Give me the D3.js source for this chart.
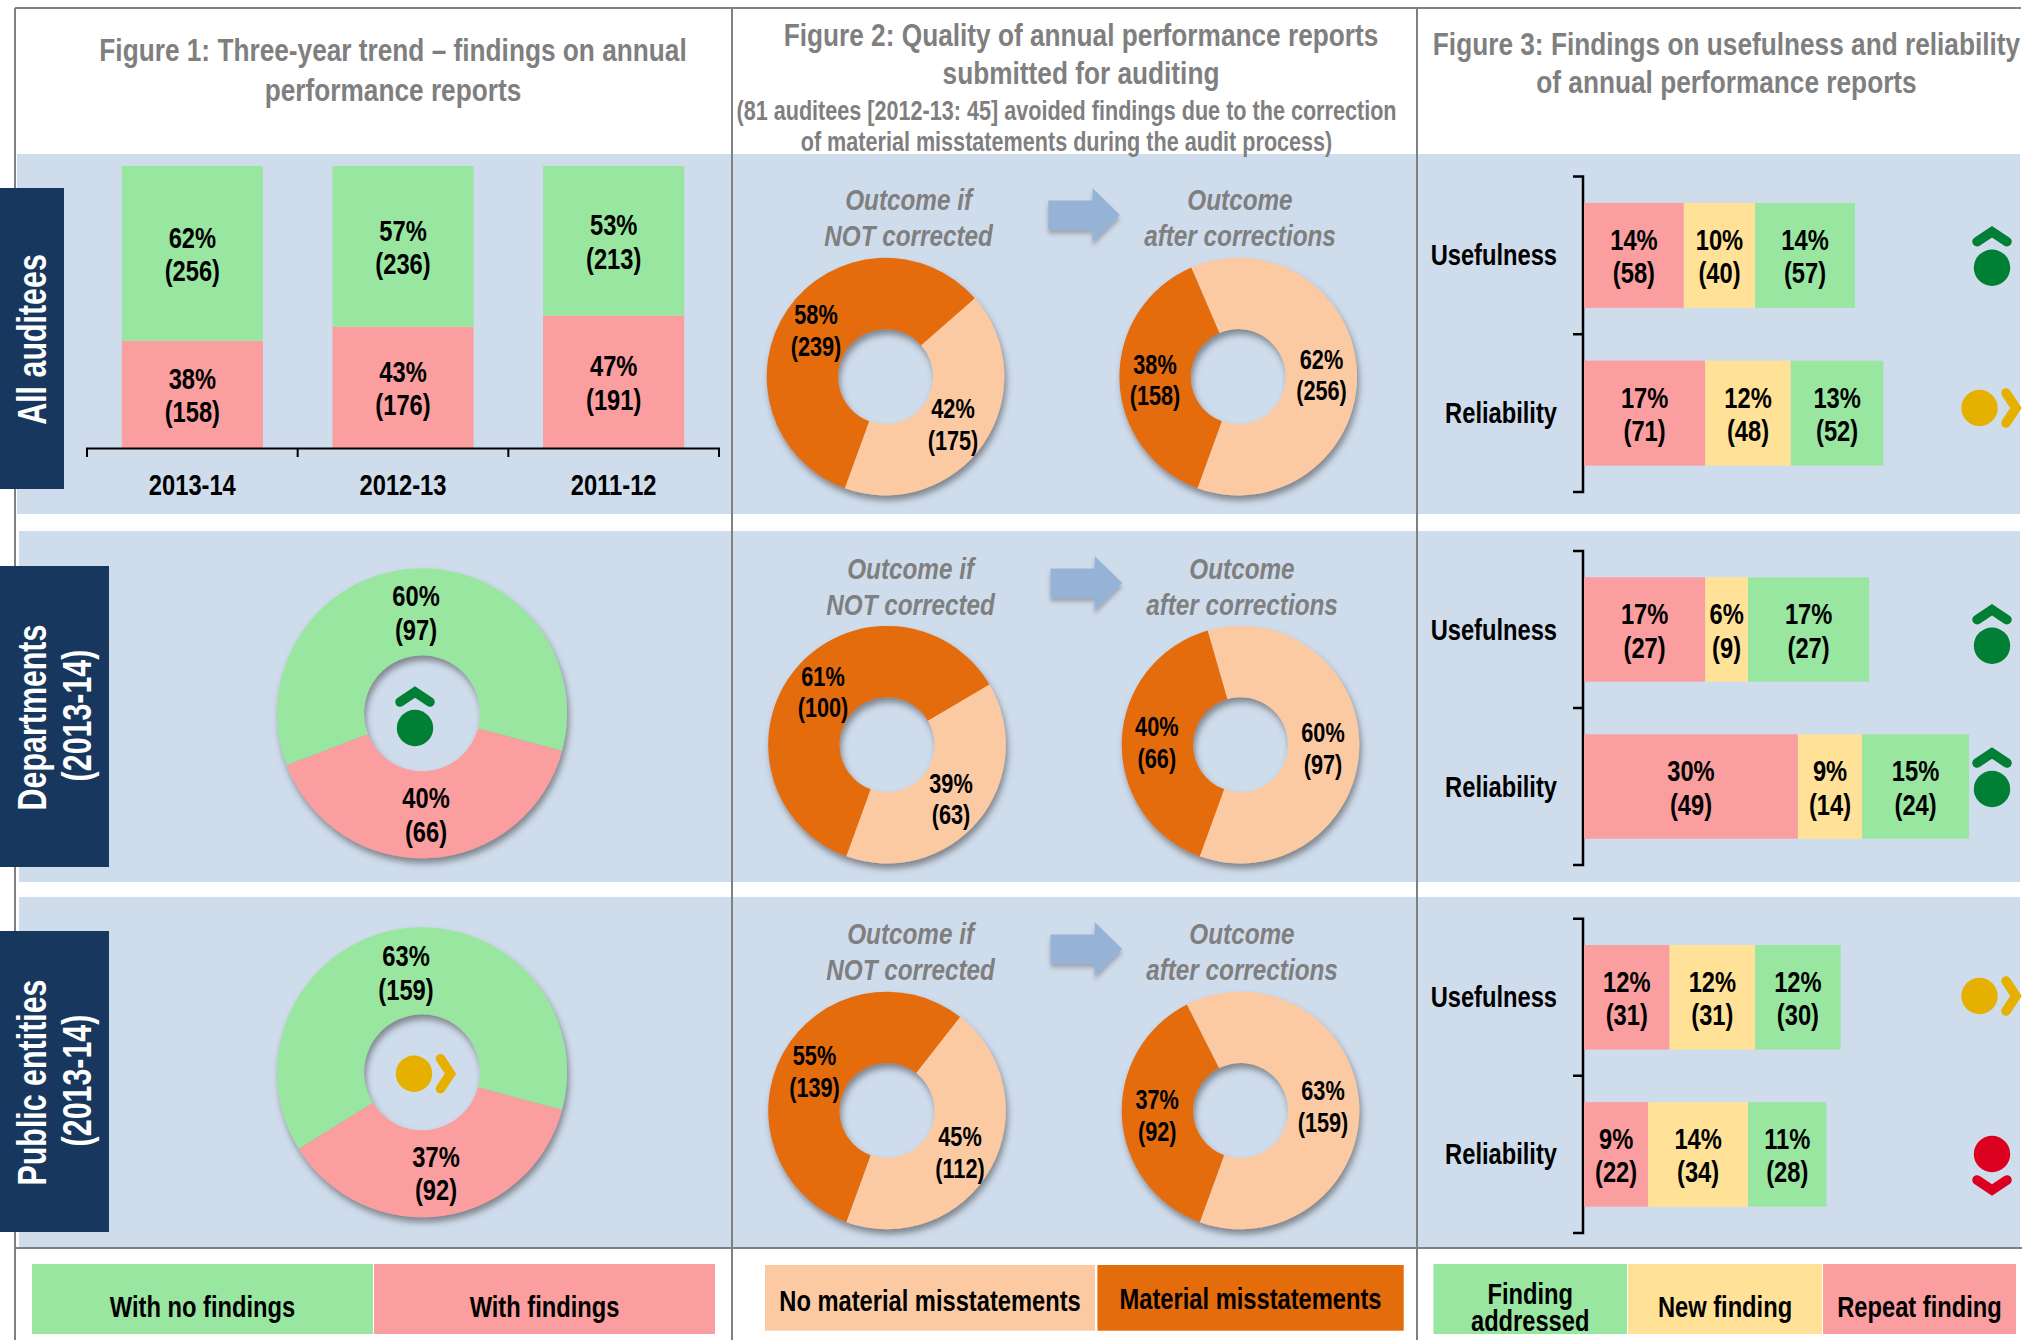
<!DOCTYPE html>
<html>
<head>
<meta charset="utf-8">
<title>Annual performance reports</title>
<script src="https://cdn.jsdelivr.net/npm/d3@7"></script>
<style>
  html, body { margin: 0; padding: 0; background: #fff; }
  svg { display: block; }
  text { font-family: "Liberation Sans", Arial, sans-serif; font-weight: 700; fill: #000; }
</style>
</head>
<body>
<div id="chart"></div>
<script>
// Figure 1 - three-year trend
const years = ['2013-14', '2012-13', '2011-12'];
const noFindingsPct = [62, 57, 53];
const noFindingsCount = [256, 236, 213];
const findingsPct = [38, 43, 47];
const findingsCount = [158, 176, 191];

// Figure 1 - donuts, [with findings, with no findings]
const departmentsPct = [40, 60];
const departmentsCount = [66, 97];
const publicEntitiesPct = [37, 63];
const publicEntitiesCount = [92, 159];

// Figure 2 - donuts, [material misstatements, no material misstatements]
const notCorrectedPct = [[58, 42], [61, 39], [55, 45]];
const notCorrectedCount = [[239, 175], [100, 63], [139, 112]];
const afterCorrectionPct = [[38, 62], [40, 60], [37, 63]];
const afterCorrectionCount = [[158, 256], [66, 97], [92, 159]];

// Figure 3 - [repeat, new, addressed] for each section
const findingRows = ['Usefulness', 'Reliability'];
const usefulnessPct = [[14, 10, 14], [17, 6, 17], [12, 12, 12]];
const usefulnessCount = [[58, 40, 57], [27, 9, 27], [31, 31, 30]];
const reliabilityPct = [[17, 12, 13], [30, 9, 15], [9, 14, 11]];
const reliabilityCount = [[71, 48, 52], [49, 14, 24], [22, 34, 28]];
const usefulnessTrend = ['up', 'up', 'side'];
const reliabilityTrend = ['side', 'up', 'down'];

const C = {
  green: '#99E6A0', red: '#FA9E9F', yellow: '#FFE297',
  dark: '#E46C0A', light: '#FBCAA2',
  panel: '#CFDCEC', navy: '#17375E', grey: '#7F7F7F', rule: '#808080', arrow: '#95B3D7',
  iconGreen: '#007F35', iconAmber: '#E6B000', iconRed: '#DC0020'
};

// The original text is Arial Narrow; no narrow face is installed, so squeeze Liberation Sans
const NARROW = 0.79;
const LABEL_SIZE = 30;

const svg = d3.select('#chart').append('svg')
  .attr('width', 2022).attr('height', 1340)
  .style('background', '#fff');

const defs = svg.append('defs');
defs.append('filter').attr('id', 'pieShadow')
  .attr('x', '-10%').attr('y', '-10%').attr('width', '120%').attr('height', '120%')
  .append('feDropShadow')
  .attr('dx', 2).attr('dy', 5).attr('stdDeviation', 3)
  .attr('flood-color', '#3c3c3c').attr('flood-opacity', 0.55);
defs.append('filter').attr('id', 'arrowShadow')
  .attr('x', '-10%').attr('y', '-10%').attr('width', '120%').attr('height', '130%')
  .append('feDropShadow')
  .attr('dx', 0).attr('dy', 4).attr('stdDeviation', 2)
  .attr('flood-color', '#3c3c3c').attr('flood-opacity', 0.35);

const sections = [
  { top: 154, bottom: 514, left: 17 },
  { top: 531, bottom: 882, left: 19 },
  { top: 897, bottom: 1247, left: 19 }
];

// Panels
svg.append('g').selectAll('rect').data(sections).enter().append('rect')
  .attr('x', d => d.left).attr('y', d => d.top)
  .attr('width', d => 2020 - d.left).attr('height', d => d.bottom - d.top)
  .attr('fill', C.panel);

// Frame lines
const frame = svg.append('g').attr('stroke', C.rule).attr('stroke-width', 2);
frame.append('line').attr('x1', 15).attr('x2', 2021).attr('y1', 8).attr('y2', 8);
frame.append('line').attr('x1', 15).attr('x2', 2022).attr('y1', 1248).attr('y2', 1248);
[15, 732, 1417].forEach(x => {
  frame.append('line').attr('x1', x).attr('x2', x).attr('y1', 8).attr('y2', 1340);
});

function centered(g, x, y, str, size, opts = {}) {
  return g.append('text')
    .attr('transform', `translate(${x},${y}) scale(${opts.squeeze || NARROW},1)`)
    .attr('text-anchor', opts.anchor || 'middle')
    .style('font-size', size + 'px')
    .style('font-style', opts.italic ? 'italic' : null)
    .style('fill', opts.fill || '#000')
    .text(str);
}

function twoLine(g, x, y, pct, count, size = LABEL_SIZE, gap = 33.5) {
  centered(g, x, y, pct + '%', size);
  centered(g, x, y + gap, '(' + count + ')', size);
}

// Titles
const titles = svg.append('g');
const titleStyle = { fill: C.grey, squeeze: 0.82 };
const subStyle = { fill: C.grey, squeeze: 0.78 };
centered(titles, 393, 61, 'Figure 1: Three-year trend \u2013 findings on annual', 32, titleStyle);
centered(titles, 393, 100.5, 'performance reports', 32, titleStyle);
centered(titles, 1081, 46, 'Figure 2: Quality of annual performance reports', 32, titleStyle);
centered(titles, 1081, 84, 'submitted for auditing', 32, titleStyle);
centered(titles, 1066.5, 119.5, '(81 auditees [2012-13: 45] avoided findings due to the correction', 27.7, subStyle);
centered(titles, 1066.5, 150.5, 'of material misstatements during the audit process)', 27.7, subStyle);
centered(titles, 1726.5, 55, 'Figure 3: Findings on usefulness and reliability', 32, titleStyle);
centered(titles, 1726.5, 93, 'of annual performance reports', 32, titleStyle);

// Section tabs down the left edge
const tabs = [
  { y0: 188, y1: 489, w: 64, lines: [['All auditees', 46, 1]] },
  { y0: 566, y1: 867, w: 109, lines: [['Departments', 46, 1], ['(2013-14)', 91, -1]] },
  { y0: 931, y1: 1232, w: 109, lines: [['Public entities', 46, 1], ['(2013-14)', 91, -1]] }
];
const tabG = svg.append('g');
tabs.forEach(t => {
  tabG.append('rect').attr('x', 0).attr('y', t.y0).attr('width', t.w).attr('height', t.y1 - t.y0).attr('fill', C.navy);
  t.lines.forEach(([str, x, nudge]) => {
    tabG.append('text')
      .attr('transform', `translate(${x},${(t.y0 + t.y1) / 2 + nudge}) rotate(-90) scale(0.76,1)`)
      .attr('text-anchor', 'middle')
      .style('font-size', '40px')
      .style('fill', '#fff')
      .text(str);
  });
});

// Figure 1: stacked bars
const xYear = d3.scaleBand().domain(years).range([87, 719]).paddingInner(0.33).paddingOuter(0.165);
const yPct = d3.scaleLinear().domain([0, 100]).range([448, 166]);
const trendRows = years.map((y, i) => ({
  year: y, findings: findingsPct[i], noFindings: noFindingsPct[i],
  counts: { findings: findingsCount[i], noFindings: noFindingsCount[i] }
}));
const stack = d3.stack().keys(['findings', 'noFindings']);
const barColor = { findings: C.red, noFindings: C.green };
const barG = svg.append('g');
stack(trendRows).forEach(layer => {
  const seg = barG.append('g').selectAll('g').data(layer).enter().append('g');
  seg.append('rect')
    .attr('x', d => xYear(d.data.year))
    .attr('width', xYear.bandwidth())
    .attr('y', d => yPct(d[1]))
    .attr('height', d => yPct(d[0]) - yPct(d[1]))
    .attr('fill', barColor[layer.key]);
  seg.each(function (d) {
    const mid = (yPct(d[0]) + yPct(d[1])) / 2;
    twoLine(d3.select(this), xYear(d.data.year) + xYear.bandwidth() / 2, mid - 5.5, d.data[layer.key], d.data.counts[layer.key]);
  });
});

const yearAxis = d3.axisBottom(xYear).tickSize(0).tickPadding(25);
const axisG = svg.append('g').attr('class', 'axis').attr('transform', 'translate(0,448.5)').call(yearAxis);
axisG.select('.domain').remove();
axisG.selectAll('text')
  .attr('transform', `scale(${NARROW},1)`)
  .attr('fill', '#000')
  .style('font-size', LABEL_SIZE + 'px')
  .style('font-family', '"Liberation Sans", Arial, sans-serif');
const step = xYear.step();
svg.append('path')
  .attr('d', `M87,457V448.5H719V457` + d3.range(1, years.length).map(i => `M${87 + step * i},448.5V457`).join(''))
  .attr('fill', 'none').attr('stroke', '#000').attr('stroke-width', 2);

// Donuts
const rad = deg => deg * Math.PI / 180;

function donut(parent, cx, cy, outer, values, startDeg, colors) {
  const pie = d3.pie().sort(null).value(d => d).startAngle(rad(startDeg)).endAngle(rad(startDeg + 360));
  const arc = d3.arc().innerRadius(outer * 0.4).outerRadius(outer);
  parent.append('g')
    .attr('transform', `translate(${cx},${cy})`)
    .attr('filter', 'url(#pieShadow)')
    .selectAll('path').data(pie(values)).enter().append('path')
    .attr('d', arc)
    .attr('fill', (d, i) => colors[i]);
}

const donutG = svg.append('g');
const labelG = svg.append('g');

// Figure 1 donuts, with labels placed as in the original
donut(donutG, 422, 713.3, 145, departmentsPct, 105, [C.red, C.green]);
donut(donutG, 422, 1072.3, 145, publicEntitiesPct, 105, [C.red, C.green]);
twoLine(labelG, 426, 808, departmentsPct[0], departmentsCount[0]);
twoLine(labelG, 416, 606, departmentsPct[1], departmentsCount[1]);
twoLine(labelG, 436, 1166.5, publicEntitiesPct[0], publicEntitiesCount[0]);
twoLine(labelG, 406, 966, publicEntitiesPct[1], publicEntitiesCount[1]);

// Figure 2 donuts
const fig2Cy = [376.6, 744.7, 1110.5];
const fig2Cx = [885.5, 887, 887];
const fig2CxAfter = [1238.2, 1240.5, 1240.5];
const leftSpots = [[[816, 324], [953, 418]], [[823, 685.7], [951, 792.7]], [[814.5, 1065], [960, 1146]]];
const rightSpots = [[[1155, 373.6], [1321.5, 368.5]], [[1156.8, 736], [1323, 742]], [[1157.2, 1109.3], [1323, 1100]]];
const fig2Text = [[210, 245.5], [579, 614.5], [943.7, 979.5]];
const arrowY = [215, 583, 949];
const arrowX = [1048.3, 1050.5, 1050.5];
const fig2Small = 27.5;
const outcomeStyle = { italic: true, fill: C.grey, squeeze: 0.81 };

notCorrectedPct.forEach((vals, i) => {
  donut(donutG, fig2Cx[i], fig2Cy[i], 118.8, vals, 200, [C.dark, C.light]);
  donut(donutG, fig2CxAfter[i], fig2Cy[i], 118.8, afterCorrectionPct[i], 200, [C.dark, C.light]);
  vals.forEach((v, j) => {
    twoLine(labelG, leftSpots[i][j][0], leftSpots[i][j][1], v, notCorrectedCount[i][j], fig2Small, 31.5);
    twoLine(labelG, rightSpots[i][j][0], rightSpots[i][j][1], afterCorrectionPct[i][j], afterCorrectionCount[i][j], fig2Small, 31.5);
  });
  const dx = i === 0 ? 0 : 2;
  centered(labelG, 908.6 + dx, fig2Text[i][0], 'Outcome if', 30, outcomeStyle);
  centered(labelG, 908.6 + dx, fig2Text[i][1], 'NOT corrected', 30, outcomeStyle);
  centered(labelG, 1240 + dx, fig2Text[i][0], 'Outcome', 30, outcomeStyle);
  centered(labelG, 1240 + dx, fig2Text[i][1], 'after corrections', 30, outcomeStyle);
  svg.append('path')
    .attr('transform', `translate(${arrowX[i]},${arrowY[i]})`)
    .attr('d', 'M0,-14.5H44.2V-27L71.7,0L44.2,27V14.5H0Z')
    .attr('fill', C.arrow)
    .attr('filter', 'url(#arrowShadow)');
});

// Figure 3: stacked horizontal bars
const xShare = d3.scaleLinear().domain([0, 100]).range([1584, 2297]);
const rowColors = [C.red, C.yellow, C.green];
const bracketRanges = [[176.5, 492], [551, 865], [918.7, 1233]];
const fig3 = svg.append('g');

function drawIcon(g, kind, cx, cy) {
  const color = { up: C.iconGreen, side: C.iconAmber, down: C.iconRed }[kind];
  g.append('circle').attr('cx', cx).attr('cy', cy).attr('r', 18.2).attr('fill', color);
  const line = d3.line();
  const pts = {
    up: [[cx - 15, cy - 26], [cx, cy - 36], [cx + 15, cy - 26]],
    down: [[cx - 15, cy + 26], [cx, cy + 36], [cx + 15, cy + 26]],
    side: [[cx + 26.5, cy - 15], [cx + 36.5, cy], [cx + 26.5, cy + 15]]
  }[kind];
  g.append('path').attr('d', line(pts))
    .attr('fill', 'none').attr('stroke', color).attr('stroke-width', 9.5)
    .attr('stroke-linecap', 'round').attr('stroke-linejoin', 'miter');
}

const iconSpots = [
  [[1992, 267.7], [1979.5, 408]],
  [[1992, 645.7], [1992, 789]],
  [[1979.5, 996], [1992, 1154]]
];

bracketRanges.forEach((range, s) => {
  const yRow = d3.scaleBand().domain(findingRows).range(range).paddingInner(0.335).paddingOuter(0.1675);
  const mid = (range[0] + range[1]) / 2;
  fig3.append('path')
    .attr('d', `M1573,${range[0]}H1583V${range[1]}H1573M1573,${mid}H1583`)
    .attr('fill', 'none').attr('stroke', '#000').attr('stroke-width', 2.5);

  findingRows.forEach((name, r) => {
    const pcts = (r === 0 ? usefulnessPct : reliabilityPct)[s];
    const counts = (r === 0 ? usefulnessCount : reliabilityCount)[s];
    const y = yRow(name), h = yRow.bandwidth(), c = y + h / 2;
    centered(fig3, 1557, c + 10, name, LABEL_SIZE, { anchor: 'end' });
    let acc = 0;
    pcts.forEach((p, j) => {
      const x0 = xShare(acc), x1 = xShare(acc + p);
      fig3.append('rect').attr('x', x0).attr('y', y).attr('width', x1 - x0).attr('height', h).attr('fill', rowColors[j]);
      twoLine(fig3, (x0 + x1) / 2, c - 5.5, p, counts[j]);
      acc += p;
    });
    const kind = (r === 0 ? usefulnessTrend : reliabilityTrend)[s];
    drawIcon(fig3, kind, iconSpots[s][r][0], iconSpots[s][r][1]);
  });
});

// Trend icons inside the Figure 1 donuts
drawIcon(svg, 'up', 415, 728);
drawIcon(svg, 'side', 414, 1073.7);

// Legends
const legends = [
  [[32, 373, C.green, ['With no findings'], 1316.7], [374, 715, C.red, ['With findings'], 1316.7]],
  [[765, 1095, C.light, ['No material misstatements'], 1311], [1097.4, 1403.7, C.dark, ['Material misstatements'], 1308.5]],
  [[1433.4, 1627, C.green, ['Finding', 'addressed'], 1304], [1628, 1822, C.yellow, ['New finding'], 1316.7], [1823, 2016, C.red, ['Repeat finding'], 1316.7]]
];
const legendG = svg.append('g');
legends.forEach((items, k) => {
  const top = k === 1 ? 1265 : 1264, bottom = k === 1 ? 1330.7 : 1334;
  items.forEach(([x0, x1, fill, lines, base]) => {
    legendG.append('rect').attr('x', x0).attr('y', top).attr('width', x1 - x0).attr('height', bottom - top).attr('fill', fill);
    lines.forEach((str, n) => {
      centered(legendG, (x0 + x1) / 2, base + n * 27, str, LABEL_SIZE);
    });
  });
});
</script>
</body>
</html>
